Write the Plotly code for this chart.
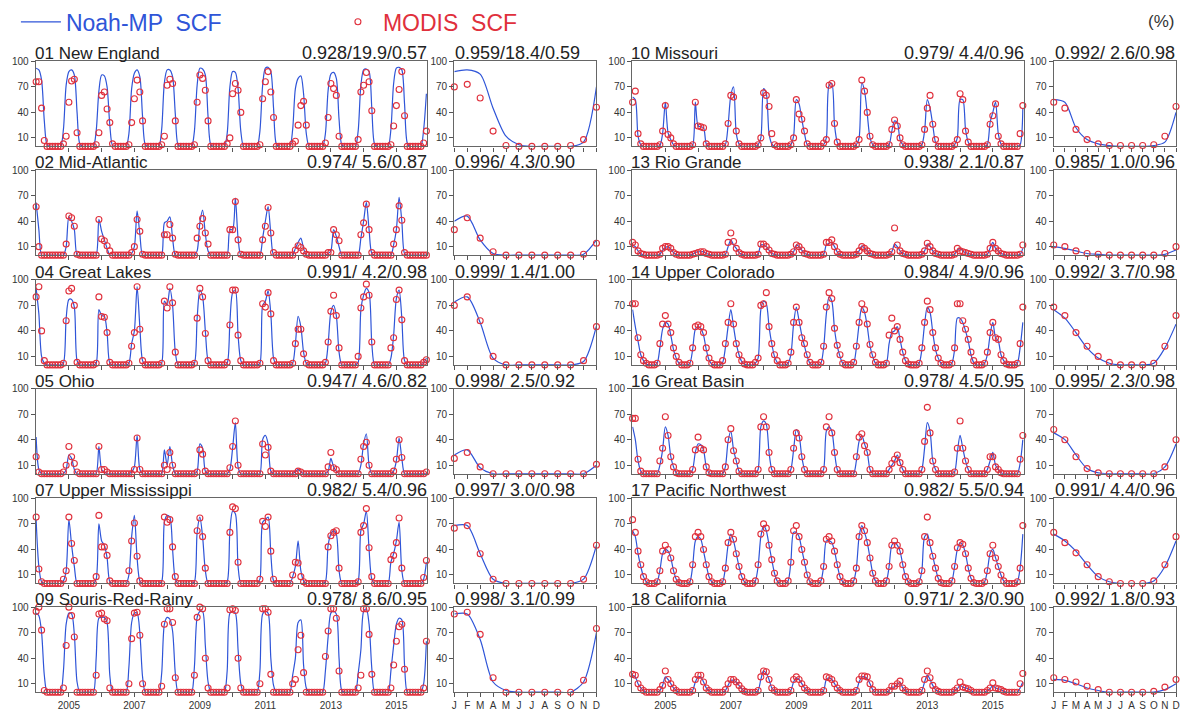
import plotly.graph_objects as go

# ---------------- data (monthly SCF, %, Jan 2004 .. Dec 2015) ----------------
YEARS = list(range(2004, 2016))
MONTH_LABELS = ["J", "F", "M", "A", "M", "J", "J", "A", "S", "O", "N", "D"]
YEAR_TICKS = list(range(2005, 2016))

NE_NOAH = [
    92, 90, 78, 30, 2, 0, 0, 0, 0, 0, 20, 72,
    88, 90, 84, 40, 3, 0, 0, 0, 0, 0, 18, 65,
    84, 83, 70, 25, 1, 0, 0, 0, 0, 0, 15, 68,
    86, 90, 82, 35, 2, 0, 0, 0, 0, 0, 20, 75,
    90, 90, 82, 38, 2, 0, 0, 0, 0, 0, 18, 72,
    92, 91, 84, 35, 2, 0, 0, 0, 0, 0, 15, 70,
    88, 87, 68, 18, 0, 0, 0, 0, 0, 0, 18, 72,
    92, 93, 88, 45, 3, 0, 0, 0, 0, 0, 20, 68,
    80, 83, 62, 15, 0, 0, 0, 0, 0, 0, 15, 66,
    85, 87, 80, 32, 2, 0, 0, 0, 0, 0, 18, 72,
    90, 91, 88, 45, 3, 0, 0, 0, 0, 0, 20, 74,
    92, 93, 90, 50, 4, 0, 0, 0, 0, 0, 20, 62]
NE_MODIS = [
    76, 76, 45, 7, 0, 0, 0, 0, 0, 0, 3, 12,
    52, 77, 79, 16, 0, 0, 0, 0, 0, 0, 2, 16,
    60, 64, 44, 28, 3, 0, 0, 0, 0, 0, 2, 28,
    56, 78, 64, 30, 0, 0, 0, 0, 0, 0, 2, 12,
    72, 79, 74, 30, 0, 0, 0, 0, 0, 0, 2, 52,
    84, 80, 66, 30, 0, 0, 0, 0, 0, 0, 3, 10,
    62, 74, 66, 40, 0, 0, 0, 0, 0, 0, 2, 56,
    76, 88, 64, 34, 0, 0, 0, 0, 0, 0, 3, 6,
    25, 48, 53, 25, 0, 0, 0, 0, 0, 0, 4, 34,
    74, 68, 60, 12, 0, 0, 0, 0, 0, 0, 8, 64,
    72, 87, 76, 42, 0, 0, 0, 0, 0, 0, 2, 24,
    48, 67, 88, 36, 0, 0, 0, 0, 0, 0, 4, 18]

MA_NOAH = [
    62, 30, 0, 0, 0, 0, 0, 0, 0, 0, 0, 10,
    45, 40, 30, 0, 0, 0, 0, 0, 0, 0, 0, 42,
    28, 18, 8, 0, 0, 0, 0, 0, 0, 0, 0, 2,
    10, 52, 25, 0, 0, 0, 0, 0, 0, 0, 0, 38,
    40, 45, 20, 0, 0, 0, 0, 0, 0, 0, 0, 5,
    38, 53, 25, 5, 0, 0, 0, 0, 0, 0, 0, 30,
    30, 67, 20, 0, 0, 0, 0, 0, 0, 0, 0, 20,
    40, 57, 25, 0, 0, 0, 0, 0, 0, 0, 0, 8,
    15, 20, 8, 0, 0, 0, 0, 0, 0, 0, 0, 2,
    5, 30, 22, 10, 0, 0, 0, 0, 0, 0, 0, 20,
    40, 62, 30, 2, 0, 0, 0, 0, 0, 0, 0, 12,
    30, 68, 40, 2, 0, 0, 0, 0, 0, 0, 0, 0]
MA_MODIS = [
    57, 10, 0, 0, 0, 0, 0, 0, 0, 0, 0, 13,
    46, 44, 34, 1, 0, 0, 0, 0, 0, 0, 0, 42,
    19, 17, 11, 5, 0, 0, 0, 0, 0, 0, 0, 3,
    10, 42, 28, 1, 0, 0, 0, 0, 0, 0, 0, 24,
    24, 36, 20, 1, 0, 0, 0, 0, 0, 0, 0, 20,
    34, 43, 26, 13, 0, 0, 0, 0, 0, 0, 0, 30,
    30, 63, 18, 1, 0, 0, 0, 0, 0, 0, 0, 18,
    34, 56, 26, 3, 0, 0, 0, 0, 0, 0, 0, 6,
    11, 9, 5, 1, 0, 0, 0, 0, 0, 0, 0, 3,
    3, 30, 24, 17, 0, 0, 0, 0, 0, 0, 0, 24,
    38, 60, 30, 3, 0, 0, 0, 0, 0, 0, 0, 13,
    30, 58, 41, 3, 0, 0, 0, 0, 0, 0, 0, 0]

GL_NOAH = [
    90, 60, 10, 2, 0, 0, 0, 0, 0, 0, 2, 55,
    77, 77, 68, 5, 0, 0, 0, 0, 0, 0, 2, 65,
    58, 57, 38, 2, 0, 0, 0, 0, 0, 0, 2, 25,
    40, 92, 45, 5, 0, 0, 0, 0, 0, 0, 2, 75,
    70, 90, 70, 15, 0, 0, 0, 0, 0, 0, 2, 55,
    88, 80, 40, 5, 0, 0, 0, 0, 0, 0, 2, 50,
    85, 88, 35, 5, 0, 0, 0, 0, 0, 0, 2, 70,
    75, 87, 60, 8, 0, 0, 0, 0, 0, 0, 2, 25,
    57, 45, 15, 2, 0, 0, 0, 0, 0, 0, 2, 25,
    62, 70, 58, 15, 0, 0, 0, 0, 0, 0, 3, 65,
    82, 90, 85, 25, 0, 0, 0, 0, 0, 0, 8, 35,
    78, 88, 55, 5, 0, 0, 0, 0, 0, 0, 2, 8]
GL_MODIS = [
    80, 92, 40, 5, 0, 0, 0, 0, 0, 0, 2, 52,
    87, 90, 70, 3, 0, 0, 0, 0, 0, 0, 2, 80,
    57, 56, 38, 3, 0, 0, 0, 0, 0, 0, 2, 22,
    38, 92, 42, 5, 0, 0, 0, 0, 0, 0, 2, 75,
    67, 92, 73, 15, 0, 0, 0, 0, 0, 0, 2, 55,
    90, 80, 37, 5, 0, 0, 0, 0, 0, 0, 3, 47,
    88, 88, 35, 5, 0, 0, 0, 0, 0, 0, 2, 72,
    68, 85, 60, 5, 0, 0, 0, 0, 0, 0, 2, 25,
    42, 42, 13, 2, 0, 0, 0, 0, 0, 0, 3, 27,
    63, 82, 58, 20, 0, 0, 0, 0, 0, 0, 10, 67,
    80, 95, 82, 27, 0, 0, 0, 0, 0, 0, 20, 32,
    77, 88, 53, 5, 0, 0, 0, 0, 0, 0, 3, 6]

OH_NOAH = [
    43, 5, 0, 0, 0, 0, 0, 0, 0, 0, 0, 5,
    22, 18, 5, 0, 0, 0, 0, 0, 0, 0, 0, 32,
    5, 2, 0, 0, 0, 0, 0, 0, 0, 0, 0, 2,
    8, 45, 5, 0, 0, 0, 0, 0, 0, 0, 0, 28,
    10, 32, 10, 0, 0, 0, 0, 0, 0, 0, 0, 3,
    35, 30, 3, 0, 0, 0, 0, 0, 0, 0, 0, 5,
    30, 60, 8, 0, 0, 0, 0, 0, 0, 0, 0, 40,
    45, 35, 3, 0, 0, 0, 0, 0, 0, 0, 0, 2,
    5, 2, 0, 0, 0, 0, 0, 0, 0, 0, 0, 3,
    18, 8, 3, 0, 0, 0, 0, 0, 0, 0, 0, 10,
    35, 47, 10, 0, 0, 0, 0, 0, 0, 0, 0, 3,
    15, 42, 18, 0, 0, 0, 0, 0, 0, 0, 0, 0]
OH_MODIS = [
    20, 2, 0, 0, 0, 0, 0, 0, 0, 0, 2, 10,
    32, 20, 12, 2, 0, 0, 0, 0, 0, 0, 0, 32,
    5, 5, 2, 0, 0, 0, 0, 0, 0, 0, 0, 0,
    5, 42, 5, 0, 0, 0, 0, 0, 0, 0, 0, 10,
    5, 25, 10, 0, 0, 0, 0, 0, 0, 0, 0, 2,
    28, 23, 3, 0, 0, 0, 0, 0, 0, 0, 0, 7,
    32, 62, 10, 0, 0, 0, 0, 0, 0, 0, 0, 35,
    22, 31, 3, 0, 0, 0, 0, 0, 0, 0, 0, 0,
    3, 2, 0, 0, 0, 0, 0, 0, 0, 0, 0, 8,
    25, 7, 5, 0, 0, 0, 0, 0, 0, 0, 0, 17,
    32, 37, 10, 0, 0, 0, 0, 0, 0, 0, 0, 3,
    17, 40, 19, 0, 0, 0, 0, 0, 0, 0, 0, 2]

UM_NOAH = [
    75, 20, 2, 0, 0, 0, 0, 0, 0, 0, 3, 15,
    75, 45, 20, 0, 0, 0, 0, 0, 0, 0, 5, 70,
    50, 45, 30, 2, 0, 0, 0, 0, 0, 0, 10, 55,
    80, 30, 3, 0, 0, 0, 0, 0, 0, 0, 2, 72,
    80, 78, 40, 5, 0, 0, 0, 0, 0, 0, 2, 60,
    78, 55, 15, 0, 0, 0, 0, 0, 0, 0, 2, 62,
    85, 82, 20, 0, 0, 0, 0, 0, 0, 0, 5, 72,
    75, 78, 35, 3, 0, 0, 0, 0, 0, 0, 8, 20,
    50, 15, 3, 0, 0, 0, 0, 0, 0, 0, 2, 45,
    58, 62, 58, 15, 0, 0, 0, 0, 0, 0, 3, 62,
    70, 85, 40, 5, 0, 0, 0, 0, 0, 0, 25, 35,
    50, 72, 15, 0, 0, 0, 0, 0, 0, 0, 5, 25]
UM_MODIS = [
    78, 17, 2, 0, 0, 0, 0, 0, 0, 0, 5, 15,
    78, 47, 27, 0, 0, 0, 0, 0, 0, 0, 8, 80,
    43, 43, 33, 3, 0, 0, 0, 0, 0, 0, 15, 50,
    71, 32, 3, 0, 0, 0, 0, 0, 0, 0, 0, 78,
    72, 75, 43, 8, 0, 0, 0, 0, 0, 0, 0, 62,
    77, 55, 18, 0, 0, 0, 0, 0, 0, 0, 0, 60,
    90, 88, 25, 0, 0, 0, 0, 0, 0, 0, 5, 73,
    67, 78, 38, 5, 0, 0, 0, 0, 0, 0, 10, 25,
    24, 8, 2, 0, 0, 0, 0, 0, 0, 0, 0, 43,
    56, 60, 62, 18, 0, 0, 0, 0, 0, 0, 2, 60,
    68, 88, 42, 8, 0, 0, 0, 0, 0, 0, 28, 33,
    48, 77, 18, 0, 0, 0, 0, 0, 0, 0, 7, 27]

SRR_NOAH = [
    93, 90, 70, 20, 0, 0, 0, 0, 0, 0, 25, 80,
    93, 92, 68, 12, 0, 0, 0, 0, 0, 0, 40, 87,
    88, 88, 82, 20, 0, 0, 0, 0, 0, 0, 30, 82,
    93, 93, 70, 18, 0, 0, 0, 0, 0, 0, 22, 80,
    88, 86, 72, 22, 0, 0, 0, 0, 0, 0, 30, 88,
    95, 95, 55, 12, 0, 0, 0, 0, 0, 0, 25, 93,
    95, 93, 50, 10, 0, 0, 0, 0, 0, 0, 25, 92,
    95, 93, 40, 8, 0, 0, 0, 0, 0, 0, 20, 40,
    82, 85, 32, 5, 0, 0, 0, 0, 0, 0, 25, 65,
    93, 95, 92, 40, 2, 0, 0, 0, 0, 0, 22, 50,
    95, 98, 80, 28, 0, 0, 0, 0, 0, 0, 25, 55,
    80, 87, 85, 32, 0, 0, 0, 0, 0, 0, 10, 60]
SRR_MODIS = [
    95, 100, 73, 2, 0, 0, 0, 0, 0, 0, 5, 55,
    100, 90, 65, 0, 0, 0, 0, 0, 0, 0, 20, 92,
    93, 86, 84, 5, 0, 0, 0, 0, 0, 0, 10, 63,
    93, 94, 67, 10, 0, 0, 0, 0, 0, 0, 7, 80,
    98, 98, 82, 17, 0, 0, 0, 0, 0, 0, 20, 88,
    100, 98, 40, 5, 0, 0, 0, 0, 0, 0, 5, 97,
    98, 96, 40, 5, 0, 0, 0, 0, 0, 0, 10, 98,
    98, 94, 21, 0, 0, 0, 0, 0, 0, 0, 10, 15,
    50, 67, 23, 0, 0, 0, 0, 0, 0, 0, 42, 72,
    98, 98, 87, 25, 0, 0, 0, 0, 0, 0, 5, 20,
    98, 98, 68, 21, 0, 0, 0, 0, 0, 0, 5, 32,
    60, 77, 80, 27, 0, 0, 0, 0, 0, 0, 5, 60]

MO_NOAH = [
    58, 55, 12, 2, 0, 0, 0, 0, 0, 0, 1, 15,
    52, 16, 8, 2, 0, 0, 0, 0, 0, 0, 1, 52,
    24, 23, 22, 3, 0, 0, 0, 0, 0, 0, 2, 25,
    60, 70, 15, 3, 0, 0, 0, 0, 0, 0, 2, 10,
    68, 62, 15, 3, 0, 0, 0, 0, 0, 0, 2, 12,
    55, 50, 32, 15, 2, 0, 0, 0, 0, 0, 2, 10,
    72, 74, 25, 5, 0, 0, 0, 0, 0, 0, 2, 10,
    75, 65, 38, 10, 2, 0, 0, 0, 0, 0, 2, 18,
    30, 28, 8, 2, 0, 0, 0, 0, 0, 0, 2, 18,
    55, 45, 25, 5, 0, 0, 0, 0, 0, 0, 2, 10,
    55, 55, 20, 5, 0, 0, 0, 0, 0, 0, 2, 28,
    40, 52, 15, 3, 0, 0, 0, 0, 0, 0, 2, 45]
MO_MODIS = [
    52, 65, 15, 3, 0, 0, 0, 0, 0, 0, 2, 18,
    48, 14, 10, 3, 0, 0, 0, 0, 0, 0, 2, 52,
    24, 23, 22, 3, 0, 0, 0, 0, 0, 0, 3, 27,
    60, 58, 18, 3, 0, 0, 0, 0, 0, 0, 2, 10,
    63, 60, 47, 15, 2, 0, 0, 0, 0, 0, 2, 10,
    55, 38, 32, 18, 3, 0, 0, 0, 0, 0, 4, 8,
    72, 74, 27, 5, 0, 0, 0, 0, 0, 0, 2, 8,
    78, 65, 40, 12, 2, 0, 0, 0, 0, 0, 2, 20,
    31, 24, 10, 2, 0, 0, 0, 0, 0, 0, 2, 20,
    45, 60, 26, 8, 0, 0, 0, 0, 0, 0, 2, 8,
    62, 55, 18, 5, 0, 0, 0, 0, 0, 0, 2, 26,
    36, 50, 12, 3, 0, 0, 0, 0, 0, 0, 15, 48]

RG_NOAH = [
    12, 10, 5, 2, 0, 0, 0, 0, 0, 0, 1, 6,
    9, 10, 7, 3, 1, 0, 0, 0, 0, 0, 1, 3,
    4, 4, 4, 2, 1, 0, 0, 0, 0, 0, 1, 10,
    18, 12, 8, 3, 1, 0, 0, 0, 0, 0, 1, 12,
    12, 10, 6, 2, 1, 0, 0, 0, 0, 0, 1, 4,
    12, 10, 6, 2, 1, 0, 0, 0, 0, 0, 1, 12,
    14, 15, 10, 4, 1, 0, 0, 0, 0, 0, 1, 5,
    11, 8, 5, 2, 1, 0, 0, 0, 0, 0, 1, 4,
    13, 10, 5, 2, 1, 0, 0, 0, 0, 0, 1, 5,
    13, 10, 5, 2, 1, 0, 0, 0, 0, 0, 1, 6,
    8, 5, 3, 2, 1, 0, 0, 0, 0, 0, 1, 8,
    15, 8, 5, 2, 1, 0, 0, 0, 0, 0, 1, 8]
RG_MODIS = [
    15, 12, 5, 2, 1, 0, 0, 0, 0, 0, 1, 8,
    10, 10, 8, 3, 1, 0, 0, 0, 0, 0, 1, 2,
    3, 4, 4, 2, 1, 0, 0, 0, 0, 0, 1, 15,
    26, 16, 8, 3, 1, 0, 0, 0, 0, 0, 1, 13,
    13, 10, 6, 2, 1, 0, 0, 0, 0, 0, 1, 4,
    12, 10, 6, 2, 1, 0, 0, 0, 0, 0, 1, 15,
    15, 18, 10, 4, 1, 0, 0, 0, 0, 0, 1, 5,
    10, 8, 5, 2, 1, 0, 0, 0, 0, 0, 1, 4,
    32, 12, 5, 2, 1, 0, 0, 0, 0, 0, 1, 5,
    14, 10, 5, 2, 1, 0, 0, 0, 0, 0, 1, 8,
    5, 4, 3, 2, 1, 0, 0, 0, 0, 0, 1, 8,
    15, 8, 5, 2, 1, 0, 0, 0, 0, 0, 1, 12]

UC_NOAH = [
    65, 45, 28, 12, 5, 1, 0, 0, 0, 2, 20, 42,
    50, 48, 35, 18, 8, 2, 0, 0, 0, 2, 18, 42,
    45, 43, 35, 18, 6, 1, 0, 0, 0, 3, 20, 45,
    65, 45, 25, 12, 4, 1, 0, 0, 0, 2, 8, 65,
    75, 72, 45, 25, 10, 3, 0, 0, 0, 2, 12, 48,
    68, 52, 35, 22, 10, 2, 0, 0, 0, 2, 20, 60,
    80, 75, 42, 22, 10, 2, 0, 0, 0, 2, 20, 48,
    68, 62, 45, 22, 10, 2, 0, 0, 0, 2, 25, 38,
    40, 45, 30, 15, 5, 1, 0, 0, 0, 2, 18, 48,
    68, 62, 38, 18, 8, 2, 0, 0, 0, 2, 18, 55,
    55, 50, 40, 28, 12, 3, 0, 0, 0, 2, 12, 35,
    50, 32, 28, 12, 5, 1, 0, 0, 0, 2, 20, 50]
UC_MODIS = [
    72, 72, 32, 12, 5, 2, 0, 0, 0, 2, 25, 48,
    58, 48, 38, 20, 10, 3, 0, 0, 0, 2, 20, 45,
    47, 45, 38, 20, 8, 2, 0, 0, 0, 5, 25, 50,
    72, 48, 25, 12, 5, 1, 0, 0, 0, 3, 8, 70,
    72, 85, 45, 25, 12, 5, 0, 0, 0, 2, 15, 50,
    68, 50, 32, 25, 12, 3, 0, 0, 0, 3, 22, 68,
    85, 78, 43, 23, 12, 2, 0, 0, 0, 3, 22, 50,
    72, 65, 48, 24, 12, 3, 0, 0, 0, 2, 35, 55,
    40, 45, 30, 15, 5, 1, 0, 0, 0, 2, 20, 50,
    75, 65, 38, 20, 8, 2, 0, 0, 0, 2, 20, 72,
    72, 52, 42, 30, 15, 5, 0, 0, 0, 2, 15, 38,
    50, 32, 30, 12, 5, 1, 0, 0, 0, 2, 25, 68]

GB_NOAH = [
    55, 40, 15, 3, 0, 0, 0, 0, 0, 0, 10, 28,
    55, 45, 20, 8, 1, 0, 0, 0, 0, 0, 5, 25,
    35, 34, 28, 8, 1, 0, 0, 0, 0, 0, 8, 38,
    50, 28, 15, 3, 0, 0, 0, 0, 0, 0, 5, 55,
    62, 58, 25, 5, 0, 0, 0, 0, 0, 0, 5, 28,
    52, 45, 20, 5, 0, 0, 0, 0, 0, 0, 5, 50,
    55, 50, 25, 5, 0, 0, 0, 0, 0, 0, 15, 38,
    45, 35, 25, 5, 0, 0, 0, 0, 0, 0, 5, 10,
    15, 22, 13, 5, 0, 0, 0, 0, 0, 0, 5, 30,
    60, 50, 15, 5, 0, 0, 0, 0, 0, 0, 2, 25,
    45, 30, 15, 5, 0, 0, 0, 0, 0, 0, 5, 15,
    25, 10, 5, 1, 0, 0, 0, 0, 0, 0, 12, 40]
GB_MODIS = [
    65, 65, 17, 3, 0, 0, 0, 0, 0, 0, 15, 30,
    67, 45, 20, 8, 1, 0, 0, 0, 0, 0, 5, 28,
    43, 30, 28, 8, 1, 0, 0, 0, 0, 0, 8, 40,
    53, 27, 15, 3, 0, 0, 0, 0, 0, 0, 5, 55,
    67, 55, 25, 5, 0, 0, 0, 0, 0, 0, 5, 30,
    48, 42, 20, 5, 0, 0, 0, 0, 0, 0, 5, 55,
    67, 48, 25, 5, 0, 0, 0, 0, 0, 0, 20, 43,
    47, 33, 25, 5, 0, 0, 0, 0, 0, 0, 5, 12,
    17, 22, 13, 5, 0, 0, 0, 0, 0, 0, 5, 38,
    78, 48, 15, 5, 0, 0, 0, 0, 0, 0, 2, 30,
    62, 30, 15, 5, 0, 0, 0, 0, 0, 0, 5, 20,
    20, 8, 5, 1, 0, 0, 0, 0, 0, 0, 17, 45]

PNW_NOAH = [
    62, 55, 35, 20, 8, 2, 0, 0, 0, 2, 15, 35,
    40, 38, 30, 15, 5, 1, 0, 0, 0, 2, 20, 50,
    55, 52, 38, 22, 8, 2, 0, 0, 0, 2, 18, 45,
    58, 50, 35, 20, 8, 2, 0, 0, 0, 3, 20, 55,
    68, 62, 45, 28, 12, 3, 0, 0, 0, 3, 25, 60,
    60, 55, 40, 25, 10, 2, 0, 0, 0, 3, 20, 50,
    50, 48, 38, 22, 8, 2, 0, 0, 0, 3, 18, 55,
    68, 60, 48, 30, 12, 3, 0, 0, 0, 3, 20, 45,
    48, 45, 38, 22, 8, 2, 0, 0, 0, 2, 15, 55,
    58, 45, 32, 18, 6, 1, 0, 0, 0, 3, 20, 40,
    48, 45, 35, 18, 6, 1, 0, 0, 0, 2, 15, 35,
    40, 30, 20, 10, 3, 0, 0, 0, 0, 2, 18, 58]
PNW_MODIS = [
    75, 60, 38, 22, 8, 2, 0, 0, 0, 2, 15, 38,
    45, 40, 30, 15, 5, 1, 0, 0, 0, 2, 22, 55,
    60, 55, 40, 22, 8, 2, 0, 0, 0, 2, 18, 48,
    60, 52, 35, 20, 8, 2, 0, 0, 0, 3, 22, 58,
    70, 65, 45, 28, 12, 3, 0, 0, 0, 3, 25, 62,
    68, 55, 40, 25, 10, 2, 0, 0, 0, 3, 20, 52,
    55, 50, 38, 22, 8, 2, 0, 0, 0, 3, 18, 55,
    68, 62, 48, 30, 12, 3, 0, 0, 0, 3, 20, 45,
    50, 45, 38, 22, 8, 2, 0, 0, 0, 2, 15, 55,
    78, 48, 32, 18, 6, 1, 0, 0, 0, 3, 20, 42,
    48, 46, 35, 18, 6, 1, 0, 0, 0, 2, 15, 35,
    45, 30, 20, 10, 3, 0, 0, 0, 0, 2, 18, 68]

CA_NOAH = [
    20, 18, 10, 5, 2, 0, 0, 0, 0, 0, 2, 8,
    18, 15, 10, 5, 2, 0, 0, 0, 0, 0, 2, 12,
    18, 18, 12, 5, 2, 0, 0, 0, 0, 0, 2, 8,
    14, 14, 12, 8, 4, 1, 0, 0, 0, 0, 2, 15,
    25, 22, 15, 5, 2, 0, 0, 0, 0, 0, 2, 12,
    17, 15, 10, 5, 2, 0, 0, 0, 0, 0, 2, 15,
    17, 15, 10, 5, 2, 0, 0, 0, 0, 0, 2, 12,
    18, 18, 16, 10, 3, 0, 0, 0, 0, 0, 2, 6,
    6, 9, 12, 5, 2, 0, 0, 0, 0, 0, 2, 12,
    20, 15, 8, 3, 1, 0, 0, 0, 0, 0, 2, 4,
    8, 6, 5, 4, 2, 0, 0, 0, 0, 0, 2, 4,
    8, 5, 4, 3, 1, 0, 0, 0, 0, 0, 5, 12]
CA_MODIS = [
    21, 20, 10, 5, 2, 0, 0, 0, 0, 0, 3, 8,
    25, 15, 10, 5, 2, 0, 0, 0, 0, 0, 2, 15,
    20, 20, 12, 5, 2, 0, 0, 0, 0, 0, 3, 10,
    15, 15, 12, 8, 4, 1, 0, 0, 0, 0, 2, 18,
    25, 24, 15, 5, 2, 0, 0, 0, 0, 0, 2, 15,
    18, 15, 10, 5, 2, 0, 0, 0, 0, 0, 2, 18,
    17, 15, 10, 5, 2, 0, 0, 0, 0, 0, 2, 15,
    19, 19, 18, 10, 3, 0, 0, 0, 0, 0, 2, 7,
    7, 10, 13, 5, 2, 0, 0, 0, 0, 0, 2, 15,
    25, 17, 8, 3, 1, 0, 0, 0, 0, 0, 2, 5,
    12, 6, 5, 4, 2, 0, 0, 0, 0, 0, 2, 5,
    11, 5, 4, 3, 1, 0, 0, 0, 0, 0, 10, 22]

# monthly climatology (J..D)
NE_CLIM_NOAH = [88, 90, 85, 45, 12, 2, 0, 0, 0, 0, 5, 70]
NE_CLIM_MODIS = [70, 73, 57, 18, 1, 0, 0, 0, 0, 1, 8, 46]
MA_CLIM_NOAH = [40, 46, 18, 2, 0, 0, 0, 0, 0, 0, 1, 18]
MA_CLIM_MODIS = [30, 44, 20, 4, 0, 0, 0, 0, 0, 0, 1, 14]
GL_CLIM_NOAH = [74, 80, 50, 8, 0, 0, 0, 0, 0, 0, 4, 46]
GL_CLIM_MODIS = [70, 80, 52, 10, 0, 0, 0, 0, 0, 0, 5, 45]
OH_CLIM_NOAH = [22, 28, 7, 0, 0, 0, 0, 0, 0, 0, 0, 10]
OH_CLIM_MODIS = [18, 25, 8, 0, 0, 0, 0, 0, 0, 0, 0, 11]
UM_CLIM_NOAH = [68, 68, 35, 5, 0, 0, 0, 0, 0, 0, 5, 45]
UM_CLIM_MODIS = [65, 68, 35, 5, 0, 0, 0, 0, 0, 0, 5, 45]
SRR_CLIM_NOAH = [92, 92, 62, 12, 2, 0, 0, 0, 0, 0, 12, 70]
SRR_CLIM_MODIS = [92, 94, 68, 17, 0, 0, 0, 0, 0, 0, 14, 75]
MO_CLIM_NOAH = [55, 52, 22, 8, 3, 1, 0, 0, 0, 1, 5, 40]
MO_CLIM_MODIS = [52, 45, 20, 8, 3, 1, 1, 1, 1, 2, 12, 47]
RG_CLIM_NOAH = [10, 8, 5, 2, 1, 0, 0, 0, 0, 0, 1, 6]
RG_CLIM_MODIS = [12, 10, 5, 2, 1, 0, 0, 0, 0, 0, 2, 10]
UC_CLIM_NOAH = [65, 55, 38, 20, 8, 2, 0, 0, 0, 2, 20, 48]
UC_CLIM_MODIS = [68, 58, 38, 22, 10, 3, 0, 0, 0, 2, 22, 58]
GB_CLIM_NOAH = [48, 40, 22, 6, 1, 0, 0, 0, 0, 0, 8, 35]
GB_CLIM_MODIS = [52, 40, 20, 6, 1, 0, 0, 0, 0, 0, 8, 40]
PNW_CLIM_NOAH = [58, 50, 38, 22, 8, 2, 0, 0, 0, 3, 20, 50]
PNW_CLIM_MODIS = [60, 48, 36, 22, 8, 2, 0, 0, 0, 3, 22, 55]
CA_CLIM_NOAH = [15, 14, 10, 5, 2, 0, 0, 0, 0, 0, 3, 10]
CA_CLIM_MODIS = [17, 15, 12, 7, 3, 0, 0, 0, 0, 1, 6, 15]

REGION_NAMES = ["01 New England", "02 Mid-Atlantic", "04 Great Lakes", "05 Ohio",
                "07 Upper Mississippi", "09 Souris-Red-Rainy",
                "10 Missouri", "13 Rio Grande", "14 Upper Colorado", "16 Great Basin",
                "17 Pacific Northwest", "18 California"]
TS_STATS = ["0.928/19.9/0.57", "0.974/ 5.6/0.87", "0.991/ 4.2/0.98", "0.947/ 4.6/0.82",
            "0.982/ 5.4/0.96", "0.978/ 8.6/0.95",
            "0.979/ 4.4/0.96", "0.938/ 2.1/0.87", "0.984/ 4.9/0.96", "0.978/ 4.5/0.95",
            "0.982/ 5.5/0.94", "0.971/ 2.3/0.90"]
CLIM_STATS = ["0.959/18.4/0.59", "0.996/ 4.3/0.90", "0.999/ 1.4/1.00", "0.998/ 2.5/0.92",
              "0.997/ 3.0/0.98", "0.998/ 3.1/0.99",
              "0.992/ 2.6/0.98", "0.985/ 1.0/0.96", "0.992/ 3.7/0.98", "0.995/ 2.3/0.98",
              "0.991/ 4.4/0.96", "0.992/ 1.8/0.93"]

TS_NOAH = [NE_NOAH, MA_NOAH, GL_NOAH, OH_NOAH, UM_NOAH, SRR_NOAH,
           MO_NOAH, RG_NOAH, UC_NOAH, GB_NOAH, PNW_NOAH, CA_NOAH]
TS_MODIS = [NE_MODIS, MA_MODIS, GL_MODIS, OH_MODIS, UM_MODIS, SRR_MODIS,
            MO_MODIS, RG_MODIS, UC_MODIS, GB_MODIS, PNW_MODIS, CA_MODIS]
CL_NOAH = [NE_CLIM_NOAH, MA_CLIM_NOAH, GL_CLIM_NOAH, OH_CLIM_NOAH, UM_CLIM_NOAH, SRR_CLIM_NOAH,
           MO_CLIM_NOAH, RG_CLIM_NOAH, UC_CLIM_NOAH, GB_CLIM_NOAH, PNW_CLIM_NOAH, CA_CLIM_NOAH]
CL_MODIS = [NE_CLIM_MODIS, MA_CLIM_MODIS, GL_CLIM_MODIS, OH_CLIM_MODIS, UM_CLIM_MODIS, SRR_CLIM_MODIS,
            MO_CLIM_MODIS, RG_CLIM_MODIS, UC_CLIM_MODIS, GB_CLIM_MODIS, PNW_CLIM_MODIS, CA_CLIM_MODIS]

for s in TS_NOAH + TS_MODIS:
    assert len(s) == 144
for s in CL_NOAH + CL_MODIS:
    assert len(s) == 12

# ---------------- figure ----------------
W, H = 1183, 711
BLUE = "#2f55d8"
RED = "#e0303c"
FONT = "Liberation Sans, Arial, Helvetica, sans-serif"

TIME_X = [y + m / 12.0 for y in YEARS for m in range(12)]
CLIM_X = list(range(1, 13))

COLS = [(33, 427, 454, 597), (633, 1027, 1057, 1180)]
ROW_TOPS = [55, 165, 276, 386, 497, 607]
ROW_H = 86


def px(x):
    return x / W


def py(y):
    return 1 - y / H


fig = go.Figure()
layout = {}
annotations = []
k = 0
common_axis = dict(showline=True, mirror=True, linecolor="#666", linewidth=1.4,
                   ticks="outside", ticklen=4, tickcolor="#555", tickwidth=1,
                   showgrid=False, zeroline=False,
                   tickfont=dict(size=10, color="#333", family=FONT))

for c, (tx0, tx1, cx0, cx1) in enumerate(COLS):
    for r in range(6):
        i = c * 6 + r
        top = ROW_TOPS[r]
        ydom = [py(top + ROW_H), py(top)]
        bottom = (r == 5)
        for kind in ("ts", "clim"):
            k += 1
            xa = "xaxis" if k == 1 else f"xaxis{k}"
            ya = "yaxis" if k == 1 else f"yaxis{k}"
            xr = "x" if k == 1 else f"x{k}"
            yr = "y" if k == 1 else f"y{k}"
            if kind == "ts":
                layout[xa] = dict(common_axis, domain=[px(tx0), px(tx1)], anchor=yr,
                                  range=[2003.99, 2015.95],
                                  tickvals=YEAR_TICKS,
                                  ticktext=[str(y) if y % 2 else "" for y in YEAR_TICKS],
                                  showticklabels=bottom)
                xs, yn, ym = TIME_X, TS_NOAH[i], TS_MODIS[i]
            else:
                layout[xa] = dict(common_axis, domain=[px(cx0), px(cx1)], anchor=yr,
                                  range=[1, 12], tickvals=CLIM_X, ticktext=MONTH_LABELS,
                                  showticklabels=bottom)
                xs, yn, ym = CLIM_X, CL_NOAH[i], CL_MODIS[i]
            layout[ya] = dict(common_axis, domain=ydom, anchor=xr, range=[0, 100],
                              tickvals=[10, 40, 70, 100])
            fig.add_trace(go.Scatter(x=xs, y=yn, mode="lines", xaxis=xr, yaxis=yr,
                                     line=dict(color=BLUE, width=1.2, shape="spline",
                                               smoothing=0.8),
                                     name=f"<span style='color:{BLUE}'>Noah-MP  SCF</span>",
                                     legendgroup="noah", showlegend=(k == 1),
                                     cliponaxis=True))
            fig.add_trace(go.Scatter(x=xs, y=ym, mode="markers", xaxis=xr, yaxis=yr,
                                     marker=dict(symbol="circle-open", size=6,
                                                 color=RED, line=dict(width=1.1, color=RED)),
                                     name=f"<span style='color:{RED}'>MODIS  SCF</span>",
                                     legendgroup="modis", showlegend=(k == 1),
                                     cliponaxis=False))
        # annotations
        annotations.append(dict(x=px(tx0), y=py(top), xref="paper", yref="paper",
                                xanchor="left", yanchor="bottom", yshift=-4, xshift=-3,
                                text=REGION_NAMES[i], showarrow=False,
                                font=dict(size=17, color="#222", family=FONT)))
        annotations.append(dict(x=px(tx1), y=py(top), xref="paper", yref="paper",
                                xanchor="right", yanchor="bottom", yshift=-4, xshift=2,
                                text=TS_STATS[i], showarrow=False,
                                font=dict(size=18, color="#222", family=FONT)))
        annotations.append(dict(x=px(cx0), y=py(top), xref="paper", yref="paper",
                                xanchor="left", yanchor="bottom", yshift=-4, xshift=-1,
                                text=CLIM_STATS[i], showarrow=False,
                                font=dict(size=18, color="#222", family=FONT)))

annotations.append(dict(x=px(1180), y=py(3), xref="paper", yref="paper",
                        xanchor="right", yanchor="top", text="(%)", showarrow=False,
                        font=dict(size=17, color="#333", family=FONT)))

fig.update_layout(**layout)
fig.update_layout(
    width=W, height=H, autosize=False,
    margin=dict(l=0, r=0, t=0, b=0),
    paper_bgcolor="white", plot_bgcolor="white",
    annotations=annotations,
    showlegend=True,
    legend=dict(orientation="h", x=px(13), y=py(15), xanchor="left", yanchor="middle",
                font=dict(size=23, family=FONT), bgcolor="rgba(0,0,0,0)",
                entrywidth=262, entrywidthmode="pixels", itemwidth=40),
    font=dict(family=FONT),
)

fig.write_html("out.html", config={"displayModeBar": False},
               post_script="document.body.style.margin='0';")
